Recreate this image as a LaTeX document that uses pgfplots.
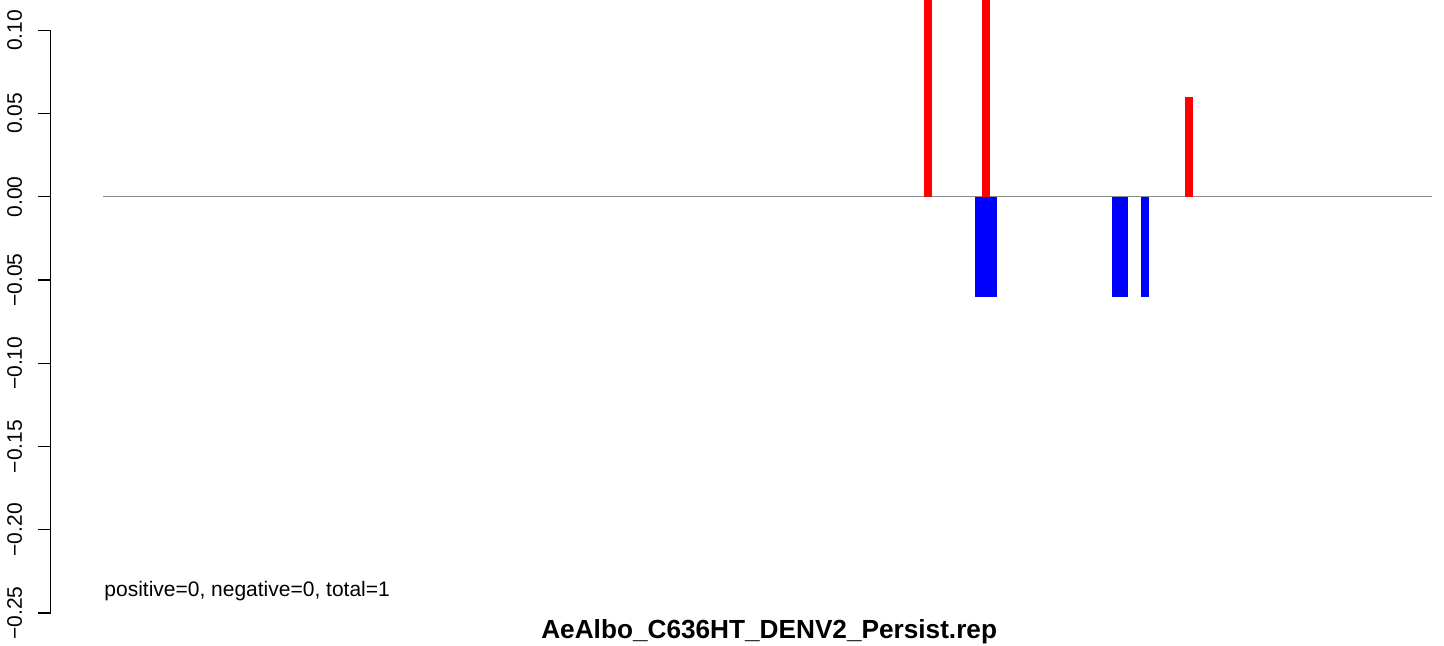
\documentclass[border=0pt]{standalone}
\usepackage{pgfplots}
\pgfplotsset{compat=1.18}
\usepackage{fontspec}
\setmainfont{Liberation Sans}

\definecolor{zeroline}{gray}{0.55}

\begin{document}
\begin{tikzpicture}
\begin{axis}[
  scale only axis,
  width=696.65pt, height=291.35pt,
  xmin=50.7, xmax=1444,
  ymin=-0.25, ymax=0.10,
  axis x line=none,
  axis y line*=left,
  y axis line style={-, line width=0.65pt},
  ytick={-0.25,-0.20,-0.15,-0.10,-0.05,0,0.05,0.10},
  yticklabels={−0.25,−0.20,−0.15,−0.10,−0.05,0.00,0.05,0.10},
  tick align=outside,
  major tick length=6.5pt,
  every tick/.style={black, line width=0.65pt},
  % shift is in the rotated frame: yshift moves the labels to the left
  yticklabel style={rotate=90, anchor=south, inner sep=0pt, yshift=7.6pt,
    font=\fontsize{10.5}{12}\selectfont},
  clip=false,
]
% zero line
\addplot[zeroline, line width=0.65pt] coordinates {(103,0) (1432,0)};
% positive bars
\addplot[ybar interval, fill=red, draw=none] coordinates {(924,0.12) (932,0.12)};
\addplot[ybar interval, fill=red, draw=none] coordinates {(982,0.12) (990,0.12)};
\addplot[ybar interval, fill=red, draw=none] coordinates {(1185,0.06) (1193,0.06)};
% negative bars
\addplot[ybar interval, fill=blue, draw=none] coordinates {(975,-0.06) (997,-0.06)};
\addplot[ybar interval, fill=blue, draw=none] coordinates {(1112,-0.06) (1128,-0.06)};
\addplot[ybar interval, fill=blue, draw=none] coordinates {(1141,-0.06) (1149,-0.06)};

\node[anchor=base west, inner sep=0pt, font=\fontsize{10.5}{12}\selectfont]
  at (axis cs:104,-0.2398) {positive=0, negative=0, total=1};
\node[anchor=base, inner sep=0pt, font=\fontsize{13.1}{15}\selectfont\bfseries]
  at (axis cs:769.2,-0.2652) {AeAlbo\_C636HT\_DENV2\_Persist.rep};

\coordinate (bbsw) at (axis cs:0,-0.26982);
\coordinate (bbne) at (axis cs:1444,0.1182);
\end{axis}
\pgfresetboundingbox
\path[use as bounding box] (bbsw) rectangle (bbne);
\end{tikzpicture}
\end{document}
